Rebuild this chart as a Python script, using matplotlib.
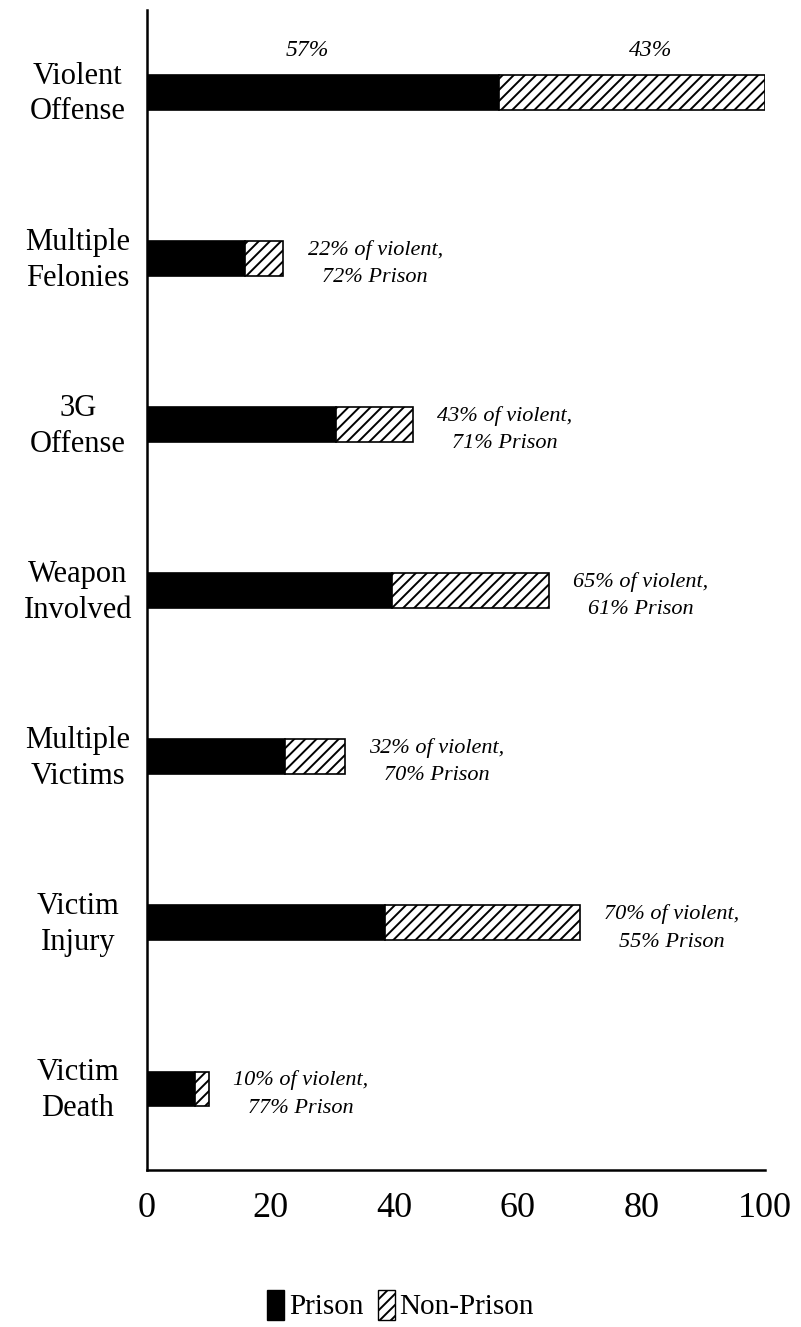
import matplotlib
matplotlib.use('Agg')
import matplotlib.pyplot as plt
from matplotlib.patches import Patch

# categories, top to bottom
categories = ['Violent\nOffense', 'Multiple\nFelonies', '3G\nOffense', 'Weapon\nInvolved',
              'Multiple\nVictims', 'Victim\nInjury', 'Victim\nDeath']
# share of violent offenses (%) and share sent to prison (%)
pct_of_violent = [100, 22, 43, 65, 32, 70, 10]
pct_prison = [57, 72, 71, 61, 70, 55, 77]
xticks = [0, 20, 40, 60, 80, 100]

prison = [t * p / 100 for t, p in zip(pct_of_violent, pct_prison)]
non_prison = [t - p for t, p in zip(pct_of_violent, prison)]
ypos = list(range(len(categories)))

plt.rcParams['font.family'] = ['Liberation Serif', 'DejaVu Serif']
plt.rcParams['hatch.linewidth'] = 1.4

fig = plt.figure(figsize=(8.01, 13.27), dpi=100)
ax = fig.add_axes([0.1835, 0.1183, 0.7715, 0.8742])

h = 0.21
ax.barh(ypos, prison, height=h, color='black', edgecolor='black', linewidth=1.2)
ax.barh(ypos, non_prison, left=prison, height=h, color='white', edgecolor='black',
        hatch='///', linewidth=1.2)

ax.set_xlim(0, 100)
ax.set_ylim(6.488, -0.497)

for y, lab in zip(ypos, categories):
    ax.text(-11.2, y + 0.01, lab, ha='center', va='center', multialignment='center',
            fontsize=22, linespacing=1.3)

# top bar labels
ax.text(prison[0] / 2 - 2.5, -0.25, '%d%%' % pct_prison[0], ha='center', va='center',
        fontsize=17, style='italic')
ax.text(prison[0] + non_prison[0] / 2 + 3, -0.25, '%d%%' % (100 - pct_prison[0]),
        ha='center', va='center', fontsize=17, style='italic')

for y, t, p in zip(ypos[1:], pct_of_violent[1:], pct_prison[1:]):
    ax.text(t + 4, y + 0.03, '%d%% of violent,\n%d%% Prison' % (t, p), ha='left', va='center',
            multialignment='center', fontsize=16, style='italic', linespacing=1.6)

ax.set_yticks([])
ax.set_xticks(xticks)
ax.set_xticklabels([str(v) for v in xticks], fontsize=26)
ax.tick_params(axis='x', length=0, pad=16)
for s in ['top', 'right']:
    ax.spines[s].set_visible(False)
ax.spines['left'].set_linewidth(1.8)
ax.spines['bottom'].set_linewidth(1.8)

handles = [Patch(facecolor='black', edgecolor='black'),
           Patch(facecolor='white', edgecolor='black', hatch='///')]
fig.legend(handles, ['Prison', 'Non-Prison'], loc='center', bbox_to_anchor=(0.5, 1 - 1305 / 1327),
           ncol=2, frameon=False, fontsize=21, handlelength=0.6, handleheight=1.2,
           handletextpad=0.15, columnspacing=0.5)

fig.savefig('out.png', dpi=100)
